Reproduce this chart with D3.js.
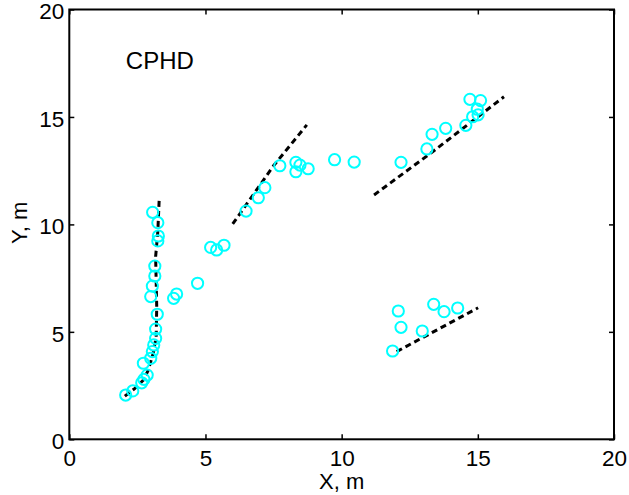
<!DOCTYPE html>
<html>
<head>
<meta charset="utf-8">
<script src="https://cdn.jsdelivr.net/npm/d3@7"></script>
<style>
  body { margin: 0; background: #fff; }
  svg { display: block; }
  text { font-family: "Liberation Sans", Arial, sans-serif; fill: #000; }
</style>
</head>
<body>
<div id="chart"></div>
<script>
// measured targets (circles)
const ptsX = [3.06, 3.25, 3.27, 3.25, 3.14, 3.14, 3.05, 2.99, 3.83, 3.94, 4.71, 5.19, 5.41, 5.68,
  6.49, 6.94, 7.18, 3.23, 3.17, 3.17, 3.10, 3.05, 2.99, 2.72, 2.86, 2.74, 2.66, 2.33, 2.07,
  7.73, 8.32, 8.47, 8.32, 8.77, 9.74, 10.46, 12.18, 13.13, 13.32, 13.82, 14.56, 14.71, 15.10,
  14.98, 14.81, 15.01, 12.08, 12.18, 11.87, 12.96, 13.38, 13.76, 14.26];
const ptsY = [10.56, 10.08, 9.46, 9.23, 8.06, 7.60, 7.13, 6.64, 6.56, 6.76, 7.26, 8.93, 8.81, 9.03,
  10.62, 11.24, 11.71, 5.82, 5.13, 4.70, 4.39, 4.08, 3.77, 3.54, 2.99, 2.79, 2.63, 2.25, 2.06,
  12.73, 12.89, 12.76, 12.45, 12.59, 13.01, 12.90, 12.89, 13.51, 14.19, 14.47, 14.61, 15.82, 15.76,
  15.36, 15.01, 15.10, 5.97, 5.21, 4.11, 5.04, 6.28, 5.94, 6.11];

// CPHD track estimates (dashed)
const track1 = [[2.04, 2.01], [2.41, 2.37], [2.72, 2.76], [2.90, 3.22], [3.08, 4.00], [3.19, 4.77],
  [3.21, 6.17], [3.17, 8.50], [3.25, 9.66], [3.30, 11.14]];
const track2 = [[6.00, 10.02], [7.50, 12.73], [8.72, 14.63]];
const track3 = [[11.19, 11.37], [13.34, 13.38], [15.96, 15.94]];
const track4 = [[12.02, 4.08], [15.01, 6.12]];

const tickVals = [0, 5, 10, 15, 20];

const W = 629, H = 495;
const margin = {top: 9.5, right: 15, bottom: 55.7, left: 69.3};
const width = W - margin.left - margin.right,
    height = H - margin.top - margin.bottom;

const svg = d3.select("#chart")
  .append("svg")
  .attr("width", W)
  .attr("height", H)
  .append("g")
  .attr("transform", "translate(" + margin.left + "," + margin.top + ")");

const x = d3.scaleLinear().domain([0, 20]).range([0, width]);
const y = d3.scaleLinear().domain([0, 20]).range([height, 0]);

// axes, ticks pointing inward like matlab
const tickLen = 5;
svg.append("g")
  .attr("class", "xaxis")
  .attr("transform", "translate(0," + height + ")")
  .call(d3.axisBottom(x).tickValues(tickVals).tickSizeInner(-tickLen).tickSizeOuter(0).tickPadding(10.4));
svg.append("g")
  .attr("class", "yaxis")
  .call(d3.axisLeft(y).tickValues(tickVals).tickSizeInner(-tickLen).tickSizeOuter(0).tickPadding(5));
svg.append("g")
  .call(d3.axisTop(x).tickValues(tickVals).tickSizeInner(-tickLen).tickSizeOuter(0).tickFormat(""));
svg.append("g")
  .attr("transform", "translate(" + width + ",0)")
  .call(d3.axisRight(y).tickValues(tickVals).tickSizeInner(-tickLen).tickSizeOuter(0).tickFormat(""));

svg.selectAll(".domain").remove();
svg.selectAll(".tick line").attr("stroke", "#000").attr("stroke-width", 1.5);
svg.selectAll(".tick text")
  .style("font-size", "22.5px")
  .style("font-family", "'Liberation Sans', Arial, sans-serif");
svg.selectAll(".yaxis .tick text").attr("dy", "0.42em");

svg.append("rect")
  .attr("x", 0).attr("y", 0)
  .attr("width", width).attr("height", height)
  .attr("fill", "none")
  .attr("stroke", "#000")
  .attr("stroke-width", 2);

// dashed tracks
const line = d3.line()
  .x(d => x(d[0]))
  .y(d => y(d[1]));

svg.selectAll(".track")
  .data([track1, track2, track3, track4])
  .enter()
  .append("path")
  .attr("class", "track")
  .attr("d", line)
  .attr("fill", "none")
  .attr("stroke", "#000")
  .attr("stroke-width", 3)
  .attr("stroke-dasharray", "6,4");

// circles
svg.selectAll(".pt")
  .data(ptsX.map((v, i) => [v, ptsY[i]]))
  .enter()
  .append("circle")
  .attr("class", "pt")
  .attr("cx", d => x(d[0]))
  .attr("cy", d => y(d[1]))
  .attr("r", 5.6)
  .attr("fill", "none")
  .attr("stroke", "#00ffff")
  .attr("stroke-width", 2);

// labels
svg.append("text")
  .attr("x", 56.5)
  .attr("y", 59.8)
  .style("font-size", "24px")
  .text("CPHD");

svg.append("text")
  .attr("x", width / 2)
  .attr("y", height + 50)
  .attr("text-anchor", "middle")
  .style("font-size", "22px")
  .text("X, m");

svg.append("text")
  .attr("transform", "translate(" + (-42.8) + "," + (height / 2 - 1.5) + ") rotate(-90)")
  .attr("text-anchor", "middle")
  .style("font-size", "22px")
  .text("Y, m");
</script>
</body>
</html>
